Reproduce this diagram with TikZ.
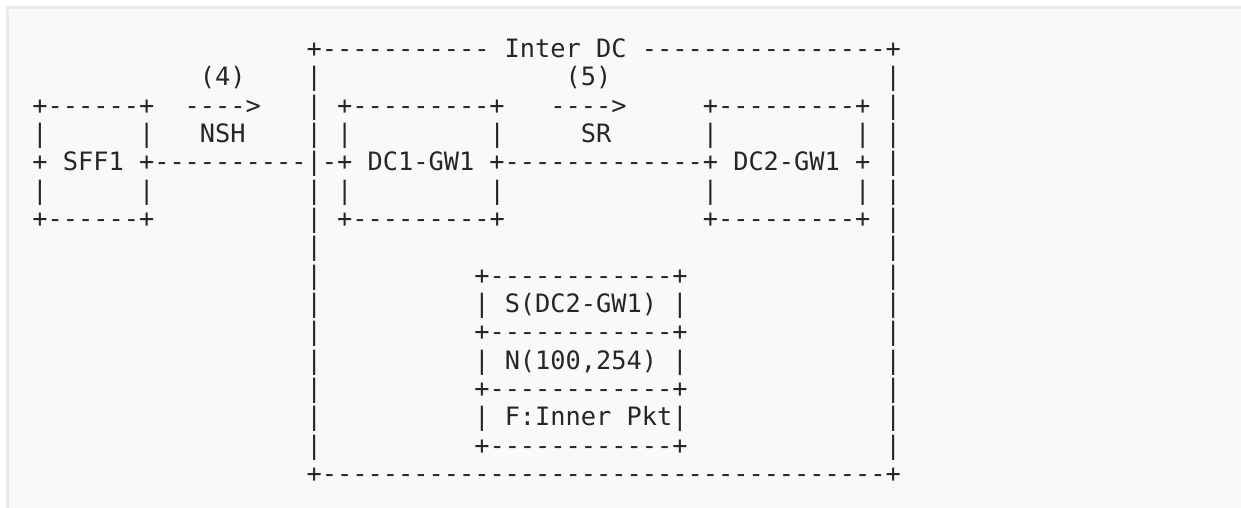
\documentclass[tikz,border=0pt]{standalone}
\usepackage{fontspec}
\setmonofont{DejaVu Sans Mono}
\usepackage{tikz}

\definecolor{kodyazi}{HTML}{262626}
\definecolor{kodzemin}{HTML}{F9F9F9}
\definecolor{kodcizgi}{HTML}{EBEBEB}
\newcommand{\gap}[1]{\hspace*{#1\fontdimen2\font}}

\begin{document}
\begin{tikzpicture}[x=1pt,y=1pt,
    satir/.style={anchor=base west, inner sep=0pt, outer sep=0pt, text=kodyazi,
        font=\fontsize{25.31}{28.33}\selectfont\ttfamily}]
        % Zemin
        \useasboundingbox (0,0) rectangle (1241,508);
        \fill[white] (0,0) rectangle (1241,508);
        \fill[kodcizgi] (6,0) rectangle (1241,502);
        \fill[kodzemin] (9,0) rectangle (1241,499);

        % Inter DC kutusu ve ust satirlar
        \node[satir] (interdc) at (32.38,450.60) {\gap{18}+----------- Inter DC ----------------+};
        \node[satir] (adimlar) at (32.38,422.27) {\gap{11}(4)\gap{4}|\gap{16}(5)\gap{18}|};
        \node[satir] (oklar) at (32.38,393.94) {+------+\gap{2}---->\gap{3}| +---------+\gap{3}---->\gap{5}+---------+ |};
        \node[satir] (etiketler) at (32.38,365.61) {|\gap{6}|\gap{3}NSH\gap{4}| |\gap{9}|\gap{5}SR\gap{6}|\gap{9}| |};
        \node[satir] (baglanti) at (32.38,337.28) {+ SFF1 +----------|-+ DC1-GW1 +-------------+ DC2-GW1 + |};
        \node[satir] (altkenar) at (32.38,308.95) {|\gap{6}|\gap{10}| |\gap{9}|\gap{13}|\gap{9}| |};
        \node[satir] (kutualt) at (32.38,280.62) {+------+\gap{10}| +---------+\gap{13}+---------+ |};
        \node[satir] (bos) at (32.38,252.29) {\gap{18}|\gap{37}|};

        % Paket kutusu
        \node[satir] (pakust) at (32.38,223.96) {\gap{18}|\gap{10}+------------+\gap{13}|};
        \node[satir] (sgw) at (32.38,195.63) {\gap{18}|\gap{10}| S(DC2-GW1) |\gap{13}|};
        \node[satir] (ara1) at (32.38,167.30) {\gap{18}|\gap{10}+------------+\gap{13}|};
        \node[satir] (nsh) at (32.38,138.97) {\gap{18}|\gap{10}| N(100,254) |\gap{13}|};
        \node[satir] (ara2) at (32.38,110.64) {\gap{18}|\gap{10}+------------+\gap{13}|};
        \node[satir] (ic) at (32.38,82.31) {\gap{18}|\gap{10}| F:Inner Pkt|\gap{13}|};
        \node[satir] (pakalt) at (32.38,53.98) {\gap{18}|\gap{10}+------------+\gap{13}|};
        \node[satir] (dcalt) at (32.38,25.65) {\gap{18}+-------------------------------------+};
\end{tikzpicture}
\end{document}
